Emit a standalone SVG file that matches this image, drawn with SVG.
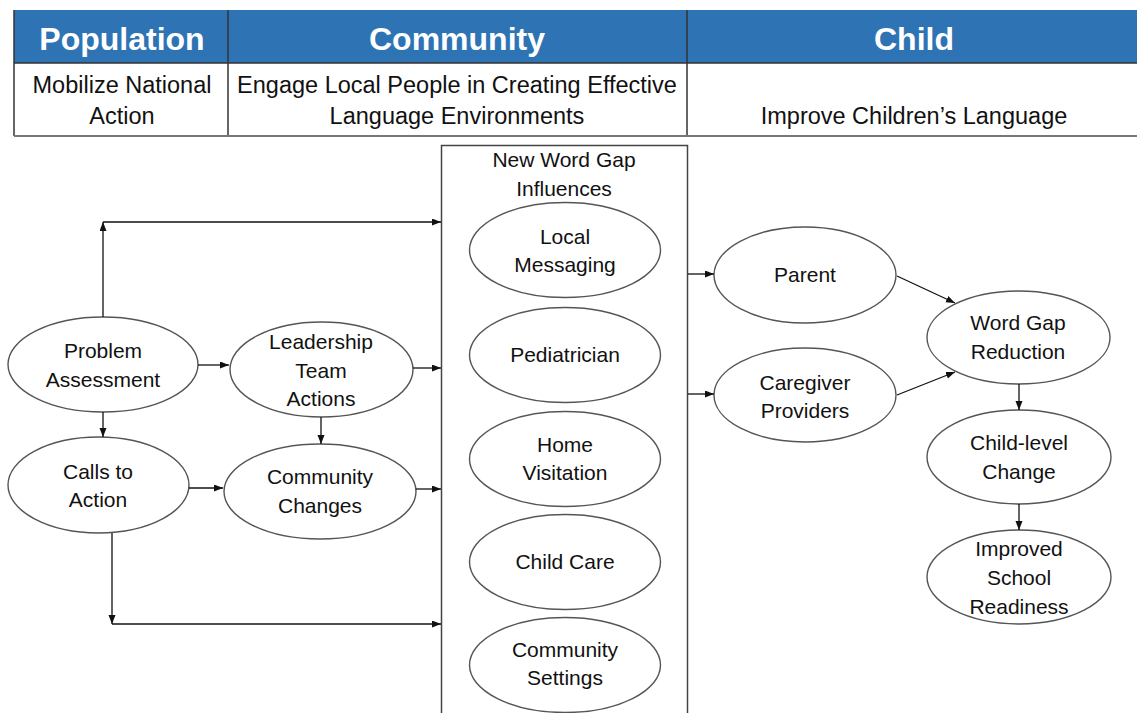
<svg xmlns="http://www.w3.org/2000/svg" width="1137" height="713" viewBox="0 0 1137 713">
<style>
.hdr{font-family:"Liberation Sans",Arial,sans-serif;font-weight:bold;font-size:32px;fill:#fff;text-anchor:middle}
.sub{font-family:"Liberation Sans",Arial,sans-serif;font-size:23.5px;fill:#111;text-anchor:middle}
.lbl{font-family:"Liberation Sans",Arial,sans-serif;font-size:21px;fill:#111;text-anchor:middle}
.node ellipse{fill:#fff;stroke:#555;stroke-width:1.4}
.conn path{fill:none;stroke:#111;stroke-width:1.3;marker-end:url(#ah)}
.grid{stroke:#333;stroke-width:1.5}
</style>
<defs>
<marker id="ah" markerUnits="userSpaceOnUse" markerWidth="10" markerHeight="8" refX="9" refY="3.5" orient="auto">
<path d="M0,0 L9,3.5 L0,7 z" fill="#111"/>
</marker>
</defs>
<rect width="1137" height="713" fill="#fff"/>
<g id="header">
<rect x="14" y="10" width="1123" height="53" fill="#2E74B5"/>
<line class="grid" x1="14" y1="10" x2="14" y2="136"/>
<line class="grid" x1="228" y1="10" x2="228" y2="136"/>
<line class="grid" x1="687" y1="10" x2="687" y2="136"/>
<line class="grid" x1="14" y1="63" x2="1137" y2="63" stroke="#2a4a70"/>
<line x1="14" y1="136" x2="1137" y2="136" stroke="#777" stroke-width="2"/>
<text class="hdr" x="122" y="50">Population</text>
<text class="hdr" x="457" y="50">Community</text>
<text class="hdr" x="914" y="50">Child</text>
<text class="sub" x="122" y="93">Mobilize National</text>
<text class="sub" x="122" y="124">Action</text>
<text class="sub" x="457" y="93">Engage Local People in Creating Effective</text>
<text class="sub" x="457" y="124">Language Environments</text>
<text class="sub" x="914" y="124">Improve Children’s Language</text>
</g>
<g id="influences">
<rect x="441.5" y="145.5" width="246" height="590" fill="none" stroke="#444" stroke-width="1.5"/>
<text class="lbl" x="564" y="167">New Word Gap</text>
<text class="lbl" x="564" y="196">Influences</text>
</g>
<g id="local-messaging" class="node"><ellipse cx="565" cy="250" rx="95.5" ry="47.5"/><text class="lbl" x="565" y="244">Local</text><text class="lbl" x="565" y="272">Messaging</text></g>
<g id="pediatrician" class="node"><ellipse cx="565" cy="355" rx="95.5" ry="47.5"/><text class="lbl" x="565" y="362">Pediatrician</text></g>
<g id="home-visitation" class="node"><ellipse cx="565" cy="459" rx="95.5" ry="47.5"/><text class="lbl" x="565" y="452">Home</text><text class="lbl" x="565" y="480">Visitation</text></g>
<g id="child-care" class="node"><ellipse cx="565" cy="562" rx="95.5" ry="47.5"/><text class="lbl" x="565" y="569">Child Care</text></g>
<g id="community-settings" class="node"><ellipse cx="565" cy="665" rx="95.5" ry="47.5"/><text class="lbl" x="565" y="657">Community</text><text class="lbl" x="565" y="685">Settings</text></g>
<g id="problem-assessment" class="node"><ellipse cx="103" cy="364.5" rx="95" ry="47.5"/><text class="lbl" x="103" y="358">Problem</text><text class="lbl" x="103" y="387">Assessment</text></g>
<g id="leadership" class="node"><ellipse cx="321.5" cy="369.5" rx="91.5" ry="47.5"/><text class="lbl" x="321" y="349">Leadership</text><text class="lbl" x="321" y="378">Team</text><text class="lbl" x="321" y="406">Actions</text></g>
<g id="calls-to-action" class="node"><ellipse cx="98.5" cy="485" rx="90.5" ry="48"/><text class="lbl" x="98" y="479">Calls to</text><text class="lbl" x="98" y="507">Action</text></g>
<g id="community-changes" class="node"><ellipse cx="320" cy="491.5" rx="96" ry="47.5"/><text class="lbl" x="320" y="484">Community</text><text class="lbl" x="320" y="513">Changes</text></g>
<g id="parent" class="node"><ellipse cx="805" cy="275" rx="91" ry="48"/><text class="lbl" x="805" y="282">Parent</text></g>
<g id="caregiver" class="node"><ellipse cx="805" cy="395" rx="91" ry="47"/><text class="lbl" x="805" y="390">Caregiver</text><text class="lbl" x="805" y="418">Providers</text></g>
<g id="word-gap-reduction" class="node"><ellipse cx="1018.5" cy="337.5" rx="91.5" ry="46.5"/><text class="lbl" x="1018" y="330">Word Gap</text><text class="lbl" x="1018" y="359">Reduction</text></g>
<g id="child-level-change" class="node"><ellipse cx="1019" cy="457" rx="92" ry="47"/><text class="lbl" x="1019" y="450">Child-level</text><text class="lbl" x="1019" y="479">Change</text></g>
<g id="school-readiness" class="node"><ellipse cx="1019" cy="577" rx="92" ry="47"/><text class="lbl" x="1019" y="556">Improved</text><text class="lbl" x="1019" y="585">School</text><text class="lbl" x="1019" y="614">Readiness</text></g>
<g id="connectors" class="conn">
<path d="M103,317 V222"/>
<path d="M103,222 H441"/>
<path d="M198,365 H229"/>
<path d="M413,368 H441"/>
<path d="M103,412 V437"/>
<path d="M321,417 V444"/>
<path d="M189,488 H223"/>
<path d="M416,489 H441"/>
<path d="M112,533 V624"/>
<path d="M112,624 H441"/>
<path d="M688,274 H714"/>
<path d="M688,394 H714"/>
<path d="M897,276 L955,303"/>
<path d="M897,395 L955,372"/>
<path d="M1019,384 V410"/>
<path d="M1019,504 V530"/>
</g>
</svg>
